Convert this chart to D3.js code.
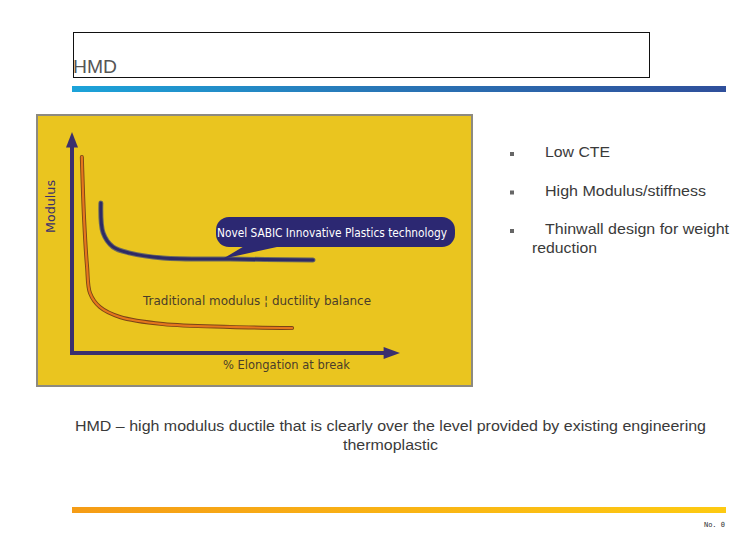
<!DOCTYPE html>
<html>
<head>
<meta charset="utf-8">
<script src="https://cdn.jsdelivr.net/npm/d3@7"></script>
<style>
  html, body { margin: 0; padding: 0; background: #fff; }
  svg { display: block; }
</style>
</head>
<body>
<svg id="slide" width="756" height="540"></svg>
<script>
// ---- data (arbitrary 0..100 units) ----
const tradX = [3.0, 3.7, 4.6, 5.5, 8.5, 14.6, 27.7, 48.2, 67.1];
const tradY = [88.7, 60.2, 38.9, 27.1, 20.8, 16.3, 13.1, 11.8, 11.3];
const novelX = [8.8, 9.5, 12.5, 17.7, 27.7, 48.2, 73.5];
const novelY = [67.9, 54.3, 48.0, 45.2, 43.0, 42.5, 42.1];

const yAxisLabel = 'Modulus';
const xAxisLabel = '% Elongation at break';
const novelLabel = 'Novel SABIC Innovative Plastics technology';
const tradLabel = 'Traditional modulus ¦ ductility balance';
const bullets = ['Low CTE', 'High Modulus/stiffness', 'Thinwall design for weight'];
const bulletWidths = [65, 161, 184];
const bulletWrap = 'reduction';
const caption = ['HMD – high modulus ductile that is clearly over the level provided by existing engineering', 'thermoplastic'];
const captionWidths = [631, 95];
const title = 'HMD';
const pageNo = 'No. 0';

const svg = d3.select('#slide');
const defs = svg.append('defs');

const blueGrad = defs.append('linearGradient').attr('id', 'blueBar');
blueGrad.append('stop').attr('offset', '0%').attr('stop-color', '#1ca3d9');
blueGrad.append('stop').attr('offset', '45%').attr('stop-color', '#2878b8');
blueGrad.append('stop').attr('offset', '100%').attr('stop-color', '#2f4f9b');

const orangeGrad = defs.append('linearGradient').attr('id', 'orangeBar');
orangeGrad.append('stop').attr('offset', '0%').attr('stop-color', '#f59c16');
orangeGrad.append('stop').attr('offset', '100%').attr('stop-color', '#fdca12');

// header
svg.append('rect').attr('x', 73.5).attr('y', 32.5).attr('width', 576).attr('height', 45)
  .attr('fill', 'none').attr('stroke', '#111').attr('stroke-width', 1);
svg.append('text').attr('x', 73).attr('y', 73)
  .attr('font-family', 'Liberation Sans, Arial, sans-serif').attr('font-size', 19)
  .attr('textLength', 44).attr('lengthAdjust', 'spacingAndGlyphs')
  .attr('fill', '#555').text(title);
svg.append('rect').attr('x', 72).attr('y', 86).attr('width', 654).attr('height', 6).attr('fill', 'url(#blueBar)');

// chart panel
const panel = { x: 37, y: 115, w: 435, h: 271 };
svg.append('rect').attr('x', panel.x).attr('y', panel.y).attr('width', panel.w).attr('height', panel.h)
  .attr('fill', '#eac51f').attr('stroke', '#8d8a80').attr('stroke-width', 2);

const x = d3.scaleLinear().domain([0, 100]).range([72, 400]);
const y = d3.scaleLinear().domain([0, 100]).range([353, 132]);
const axisColor = '#3b2f6e';

const g = svg.append('g');
// axes with arrow heads
g.append('line').attr('x1', x(0)).attr('y1', y(0)).attr('x2', x(0)).attr('y2', y(94))
  .attr('stroke', axisColor).attr('stroke-width', 4);
g.append('line').attr('x1', x(0) - 2).attr('y1', y(0)).attr('x2', x(96)).attr('y2', y(0))
  .attr('stroke', axisColor).attr('stroke-width', 4);
g.append('path')
  .attr('d', `M${x(0) - 6},${y(93)} L${x(0)},${y(100)} L${x(0) + 6},${y(93)} Z`)
  .attr('fill', axisColor);
g.append('path')
  .attr('d', `M${x(95)},${y(0) - 6} L${x(100)},${y(0)} L${x(95)},${y(0) + 6} Z`)
  .attr('fill', axisColor);

const line = d3.line().x(d => x(d[0])).y(d => y(d[1])).curve(d3.curveCatmullRom.alpha(0.5));

// traditional curve (orange with dark edge)
const trad = tradX.map((v, i) => [v, tradY[i]]);
g.append('path').attr('d', line(trad)).attr('fill', 'none')
  .attr('stroke', '#7a4418').attr('stroke-width', 4).attr('stroke-linecap', 'round');
g.append('path').attr('d', line(trad)).attr('fill', 'none')
  .attr('stroke', '#e5761c').attr('stroke-width', 2.2).attr('stroke-linecap', 'round');

// novel curve (navy)
const novel = novelX.map((v, i) => [v, novelY[i]]);
g.append('path').attr('d', line(novel)).attr('fill', 'none')
  .attr('stroke', '#6b6a60').attr('stroke-width', 5).attr('stroke-linecap', 'round');
g.append('path').attr('d', line(novel)).attr('fill', 'none')
  .attr('stroke', '#2e2a66').attr('stroke-width', 3).attr('stroke-linecap', 'round');

// callout
const cx0 = 216, cx1 = 455, cy0 = 217, cy1 = 247;
g.append('path')
  .attr('d', `M${cx0 + 30},${cy1 - 2} L${x(novelX[4]) + 60},${y(42.6)} L${cx0 + 70},${cy1 - 2} Z`)
  .attr('fill', '#2c2872');
g.append('rect').attr('x', cx0).attr('y', cy0).attr('width', cx1 - cx0).attr('height', cy1 - cy0)
  .attr('rx', 13).attr('ry', 13).attr('fill', '#2c2872');
g.append('text').attr('x', 217).attr('y', 237)
  .attr('font-family', 'DejaVu Sans, sans-serif').attr('font-size', 12.5)
  .attr('textLength', 230).attr('lengthAdjust', 'spacingAndGlyphs')
  .attr('fill', '#fff').text(novelLabel);

// labels
g.append('text').attr('x', 143).attr('y', 305)
  .attr('font-family', 'DejaVu Sans, sans-serif').attr('font-size', 12.5)
  .attr('textLength', 228).attr('lengthAdjust', 'spacingAndGlyphs')
  .attr('fill', '#4a3d2a').text(tradLabel);
g.append('text').attr('x', 223).attr('y', 369)
  .attr('font-family', 'DejaVu Sans, sans-serif').attr('font-size', 12.5)
  .attr('textLength', 127).attr('lengthAdjust', 'spacingAndGlyphs')
  .attr('fill', '#4a3d2a').text(xAxisLabel);
g.append('text').attr('transform', 'translate(55,233) rotate(-90)')
  .attr('font-family', 'DejaVu Sans, sans-serif').attr('font-size', 12.5)
  .attr('textLength', 53).attr('lengthAdjust', 'spacingAndGlyphs')
  .attr('fill', '#3b2f6e').text(yAxisLabel);

// bullets
const bulletY = d3.scalePoint().domain(bullets).range([157, 234]);
const bg = svg.append('g').attr('font-family', 'Liberation Sans, Arial, sans-serif')
  .attr('font-size', 15).attr('fill', '#3a3a3a');
bullets.forEach((b, i) => {
  bg.append('rect').attr('x', 510).attr('y', bulletY(b) - 5).attr('width', 4).attr('height', 4).attr('fill', '#666');
  bg.append('text').attr('x', 545).attr('y', bulletY(b))
    .attr('textLength', bulletWidths[i]).attr('lengthAdjust', 'spacingAndGlyphs').text(b);
});
bg.append('text').attr('x', 532).attr('y', 253)
  .attr('textLength', 65).attr('lengthAdjust', 'spacingAndGlyphs').text(bulletWrap);

// caption
const capG = svg.append('g').attr('font-family', 'Liberation Sans, Arial, sans-serif')
  .attr('font-size', 15.5).attr('fill', '#3a3a3a').attr('text-anchor', 'middle');
caption.forEach((c, i) => capG.append('text').attr('x', 390.5).attr('y', 431 + i * 19)
  .attr('textLength', captionWidths[i]).attr('lengthAdjust', 'spacingAndGlyphs').text(c));

// footer
svg.append('rect').attr('x', 72).attr('y', 507).attr('width', 654).attr('height', 6).attr('fill', 'url(#orangeBar)');
svg.append('text').attr('x', 725).attr('y', 527).attr('text-anchor', 'end')
  .attr('font-family', 'DejaVu Sans Mono, monospace').attr('font-size', 7).attr('fill', '#333').text(pageNo);
</script>
</body>
</html>
